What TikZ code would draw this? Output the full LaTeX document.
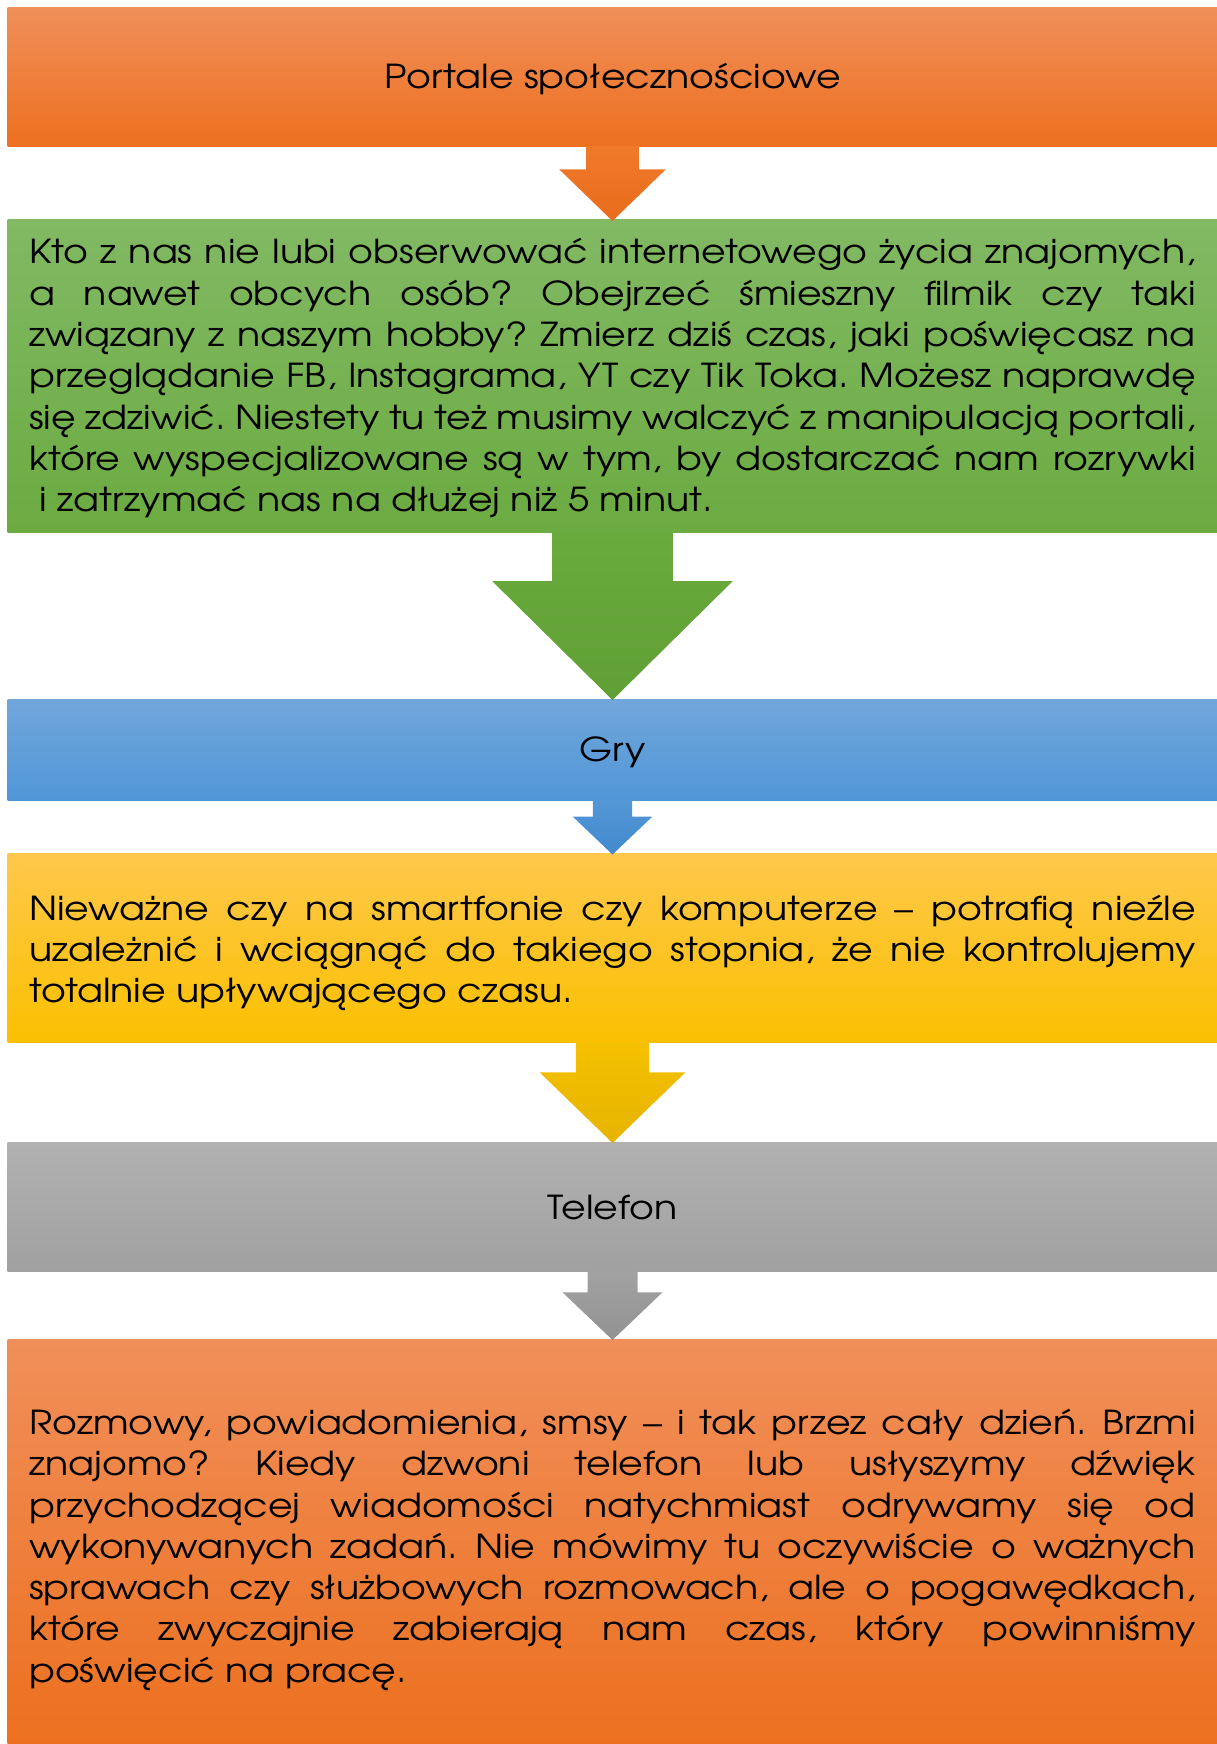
\documentclass[tikz,border=0pt]{standalone}
\usepackage{fontspec}
\setmainfont{texgyreadventor}[Extension=.otf, UprightFont=*-regular, BoldFont=*-bold, ItalicFont=*-italic, BoldItalicFont=*-bolditalic, FakeStretch=1.15]
\usetikzlibrary{calc}
\hyphenpenalty=10000
\exhyphenpenalty=10000
\tolerance=10000
\frenchspacing
\definecolor{oA}{HTML}{F18F5A}
\definecolor{oB}{HTML}{EC701F}
\definecolor{oArA}{HTML}{F07A2A}
\definecolor{oArB}{HTML}{E86C1C}
\definecolor{gA}{HTML}{82B964}
\definecolor{gB}{HTML}{6BAB41}
\definecolor{gArA}{HTML}{6AAB3E}
\definecolor{gArB}{HTML}{5F9F33}
\definecolor{bA}{HTML}{71A6DA}
\definecolor{bB}{HTML}{5097D8}
\definecolor{bArA}{HTML}{5597D6}
\definecolor{bArB}{HTML}{418ACD}
\definecolor{yA}{HTML}{FFC84B}
\definecolor{yB}{HTML}{FAC000}
\definecolor{yArA}{HTML}{F5C100}
\definecolor{yArB}{HTML}{E6B300}
\definecolor{sA}{HTML}{B1B1B1}
\definecolor{sB}{HTML}{A1A1A1}
\definecolor{sArA}{HTML}{A2A2A2}
\definecolor{sArB}{HTML}{929292}
\newcommand\bodyfont{\fontsize{33}{41.3}\selectfont\frenchspacing}
\newcommand\blockarrow[7]{%
  \shade[top color=#6, bottom color=#7]
    ($(#1.south)+(-#3,-0.5)$) -- ($(#1.south)+(-#3,#5)$) -- ($(#1.south)+(-#4,#5)$)
    -- ($(#2.north)+(0,1)$) -- ($(#1.south)+(#4,#5)$) -- ($(#1.south)+(#3,#5)$)
    -- ($(#1.south)+(#3,-0.5)$) -- cycle;}
\begin{document}
\begin{tikzpicture}[x=1pt,y=-1pt,
  box/.style={rectangle, inner sep=0pt, outer sep=0pt, anchor=north west,
    minimum width=1210pt, text=black, font=\bodyfont},
  bodytext/.style={text width=1166.5pt, align=justify, text height=0pt}]
\useasboundingbox (0,0) rectangle (1217,1744);
\node[box, minimum height=139.2pt, top color=oA, bottom color=oB,
  text height=22.4pt, text depth=0pt] (b1) at (7.5,7.5)
  {Portale społecznościowe};
\node[box, bodytext, text depth=224.5pt, minimum height=312.5pt, top color=gA, bottom color=gB] (b2) at (7.5,220)
  {Kto z nas nie lubi obserwować internetowego życia znajomych,\linebreak
  a nawet obcych osób? Obejrzeć śmieszny filmik czy taki\linebreak
  związany z naszym hobby? Zmierz dziś czas, jaki poświęcasz na\linebreak
  przeglądanie FB, Instagrama, YT czy Tik Toka. Możesz naprawdę\linebreak
  się zdziwić. Niestety tu też musimy walczyć z manipulacją portali,\linebreak
  które wyspecjalizowane są w tym, by dostarczać nam rozrywki\linebreak
  \hspace*{0.3em}i zatrzymać nas na dłużej niż 5 minut.};
\node[box, minimum height=101pt, top color=bA, bottom color=bB,
  text height=23pt, text depth=0pt] (b3) at (7.5,699)
  {Gry};
\node[box, bodytext, text depth=56pt, minimum height=189pt, top color=yA, bottom color=yB] (b4) at (7.5,853.5)
  {Nieważne czy na smartfonie czy komputerze – potrafią nieźle\linebreak
  uzależnić i wciągnąć do takiego stopnia, że nie kontrolujemy\linebreak
  totalnie upływającego czasu.};
\node[box, minimum height=129pt, top color=sA, bottom color=sB,
  text height=25pt, text depth=0pt] (b5) at (7.5,1142)
  {Telefon};
\node[box, bodytext, text depth=214.2pt, minimum height=405pt, top color=oA, bottom color=oB] (b6) at (7.5,1339)
  {Rozmowy, powiadomienia, smsy – i tak przez cały dzień. Brzmi\linebreak
  znajomo? Kiedy dzwoni telefon lub usłyszymy dźwięk\linebreak
  przychodzącej wiadomości natychmiast odrywamy się od\linebreak
  wykonywanych zadań. Nie mówimy tu oczywiście o ważnych\linebreak
  sprawach czy służbowych rozmowach, ale o pogawędkach,\linebreak
  które zwyczajnie zabierają nam czas, który powinniśmy\linebreak
  poświęcić na pracę.};
\blockarrow{b1}{b2}{26.3}{53.3}{22.6}{oArA}{oArB}
\blockarrow{b2}{b3}{60.3}{120.3}{48.6}{gArA}{gArB}
\blockarrow{b3}{b4}{19.7}{39.7}{16.7}{bArA}{bArB}
\blockarrow{b4}{b5}{36.7}{72.9}{29.8}{yArA}{yArB}
\blockarrow{b5}{b6}{25}{50}{21.3}{sArA}{sArB}
\end{tikzpicture}
\end{document}
